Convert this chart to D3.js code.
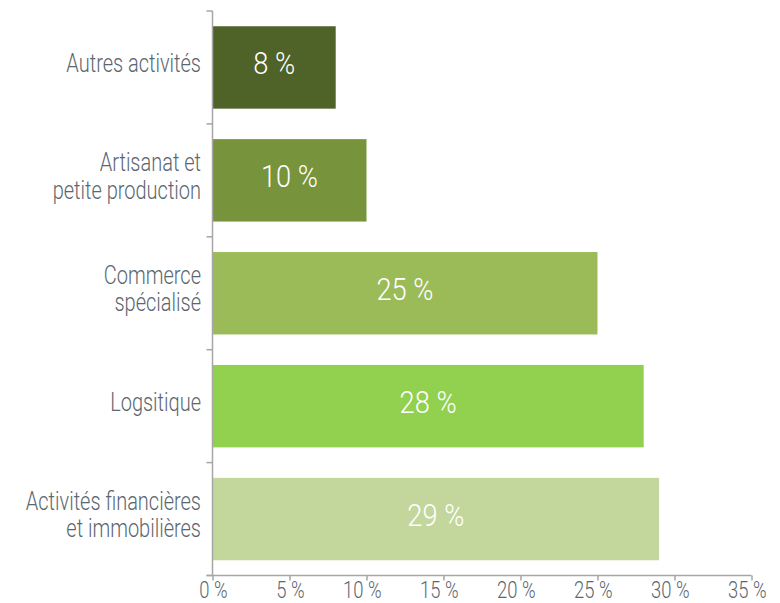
<!DOCTYPE html>
<html>
<head>
<meta charset="utf-8">
<script src="https://cdn.jsdelivr.net/npm/d3@7"></script>
<style>
  html, body { margin: 0; padding: 0; background: #fff; }
  svg text { font-family: Roboto, "Liberation Sans", sans-serif; font-weight: 300; }
</style>
</head>
<body>
<svg id="chart" width="780" height="603"></svg>
<script>
// Share of activities (%)
const categories = [
  ["Autres activités"],
  ["Artisanat et", "petite production"],
  ["Commerce", "spécialisé"],
  ["Logsitique"],
  ["Activités financières", "et immobilières"]
];
const values = [8, 10, 25, 28, 29];
const colors = ["#4f6228", "#77933c", "#9bbb59", "#92d050", "#c3d69b"];
const xTicks = [0, 5, 10, 15, 20, 25, 30, 35];

const svg = d3.select("#chart");
const plotLeft = 212.5, plotRight = 751.5, plotTop = 11, plotBottom = 575.5;
const squeeze = 0.8; // condensed look for the typeface

const x = d3.scaleLinear().domain([0, 35]).range([plotLeft, plotRight]);
const y = d3.scaleBand().domain(d3.range(categories.length)).range([plotTop, plotBottom]).paddingInner(0.27).paddingOuter(0.135);
const step = y.step();

// Bars
svg.append("g").selectAll("rect").data(values).join("rect")
  .attr("x", x(0))
  .attr("y", (d, i) => y(i))
  .attr("width", d => x(d) - x(0))
  .attr("height", y.bandwidth())
  .attr("fill", (d, i) => colors[i]);

// Value labels
svg.append("g").selectAll("text").data(values).join("text")
  .attr("transform", (d, i) => `translate(${(x(0) + x(d)) / 2},${y(i) + y.bandwidth() / 2 + 7}) scale(0.88,1)`)
  .attr("text-anchor", "middle")
  .attr("fill", "#ffffff")
  .attr("font-size", 31)
  .text(d => `${d} %`);

const axisColor = "#a6a6a6";
const textColor = "#5b6770";

// Y axis line with ticks at band boundaries
const ya = svg.append("g");
ya.append("line").attr("x1", plotLeft).attr("x2", plotLeft).attr("y1", plotTop).attr("y2", plotBottom)
  .attr("stroke", axisColor).attr("stroke-width", 1.5);
ya.selectAll("line.t").data(d3.range(categories.length + 1)).join("line").attr("class", "t")
  .attr("x1", plotLeft - 6).attr("x2", plotLeft)
  .attr("y1", i => plotTop + i * step).attr("y2", i => plotTop + i * step)
  .attr("stroke", axisColor).attr("stroke-width", 1.5);

// Category labels
const lineH = 27.5;
ya.selectAll("text").data(categories).join("text")
  .attr("transform", (d, i) => {
    const cy = y(i) + y.bandwidth() / 2 - (d.length - 1) * lineH / 2 + 4.5;
    return `translate(${plotLeft - 11.5},${cy}) scale(${squeeze},1)`;
  })
  .attr("text-anchor", "end")
  .attr("fill", textColor)
  .attr("font-size", 25)
  .each(function(d) {
    d3.select(this).selectAll("tspan").data(d).join("tspan")
      .attr("x", 0).attr("dy", (t, j) => j === 0 ? 0 : lineH)
      .text(t => t);
  });

// X axis
const xAxis = d3.axisBottom(x).tickValues(xTicks).tickSize(5).tickSizeOuter(0).tickFormat(d => `${d} %`);
const xg = svg.append("g").attr("transform", `translate(0,${plotBottom})`).call(xAxis);
xg.select(".domain").attr("stroke", axisColor).attr("stroke-width", 1.5).attr("d", `M${plotLeft - 6},0H${plotRight}`);
xg.selectAll(".tick line").attr("stroke", axisColor).attr("stroke-width", 1.5);
xg.selectAll(".tick text")
  .attr("fill", textColor)
  .attr("font-size", 23)
  .attr("font-family", "Roboto, sans-serif")
  .attr("text-anchor", "end")
  .attr("y", 0)
  .attr("dy", 0)
  .attr("transform", `translate(14.5,22.5) scale(${squeeze},1)`);
</script>
</body>
</html>
